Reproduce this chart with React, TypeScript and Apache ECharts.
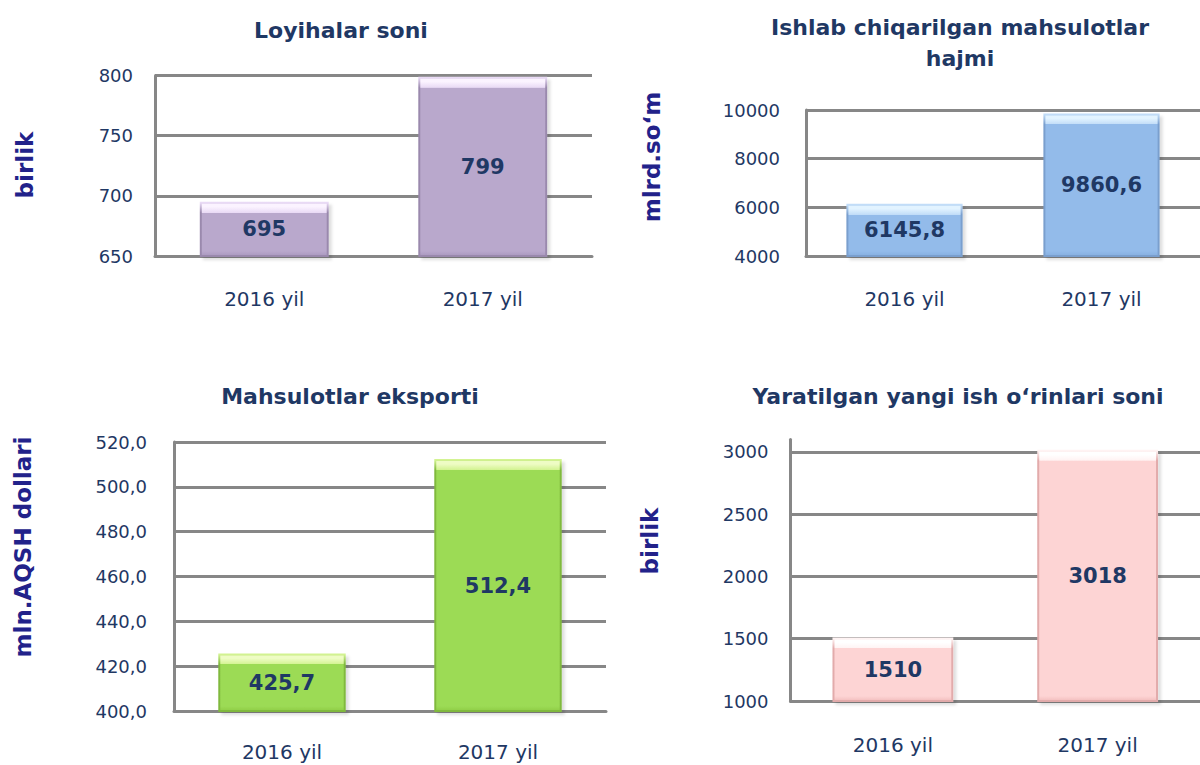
import React, { useEffect, useRef } from 'react';
import * as echarts from 'echarts';

// ---- data ----
const categories = ['2016 yil', '2017 yil'];
const projectCounts = [695, 799];
const productionVolume = [6145.8, 9860.6];
const exportValues = [425.7, 512.4];
const newJobs = [1510, 3018];

const panelTitles = [
  'Loyihalar soni',
  'Ishlab chiqarilgan mahsulotlar\nhajmi',
  'Mahsulotlar eksporti',
  'Yaratilgan yangi ish o‘rinlari soni',
];
const axisNames = ['birlik', 'mlrd.so‘m', 'mln.AQSH dollari', 'birlik'];

// y-axis ranges [min, max, interval]
const axisRanges = [
  [650, 800, 50],
  [4000, 10000, 2000],
  [400, 520, 20],
  [1000, 3100, 500],
];
const decimals = [0, 1, 1, 0];
const axisDecimals = [0, 0, 1, 0];

// ---- layout / style ----
const layout = [
  { grid: { left: 155, top: 75.5, width: 437, height: 180.5 }, yMargin: 22, xMargin: 33, title: [341, 15], name: [25, 165] },
  { grid: { left: 806, top: 110, width: 398, height: 146 }, yMargin: 26, xMargin: 33, title: [960, 12], name: [652, 157] },
  { grid: { left: 174, top: 442, width: 432, height: 269 }, yMargin: 27, xMargin: 31, title: [350, 381], name: [23, 547] },
  { grid: { left: 790.5, top: 439.5, width: 411, height: 261.5 }, yMargin: 22, xMargin: 34, title: [958, 381], name: [650, 541] },
];

const palettes = [
  { top: '#fbf3ff', top2: '#e9daf5', body: '#b9a8cc', bottom: '#aa98bf', edge: '#9a89ad' },
  { top: '#e2f3ff', top2: '#c2ddf8', body: '#93bbea', bottom: '#86afe0', edge: '#7a9fce' },
  { top: '#eefcc4', top2: '#d3f392', body: '#9cdb55', bottom: '#8fcd47', edge: '#80b93e' },
  { top: '#ffffff', top2: '#fff3f3', body: '#fdd4d4', bottom: '#f2bdbd', edge: '#e2abab' },
];

const FONT = '"DejaVu Sans", "Liberation Sans", sans-serif';
const TEXT = '#1f3864';
const NAME = '#22228a';
const GRID_LINE = '#878787';

const seriesData = [projectCounts, productionVolume, exportValues, newJobs];

function fmt(v: number, d: number) {
  return d > 0 ? v.toFixed(d).replace('.', ',') : String(Math.round(v));
}

function barItem(v: number, i: number) {
  const [min, max] = axisRanges[i];
  const h = ((v - min) / (max - min)) * layout[i].grid.height;
  const p = palettes[i];
  const a = Math.min(0.3, 4 / h);
  const b = Math.min(0.45, 10 / h);
  const c = 1 - Math.min(0.3, 5 / h);
  const fill = new echarts.graphic.LinearGradient(0, 0, 0, 1, [
    { offset: 0, color: p.top },
    { offset: a, color: p.top },
    { offset: b - 0.001, color: p.top2 },
    { offset: b, color: p.body },
    { offset: c, color: p.body },
    { offset: 1, color: p.bottom },
  ]);
  const stroke = new echarts.graphic.LinearGradient(0, 0, 0, 1, [
    { offset: 0, color: p.top2 },
    { offset: b, color: p.edge },
    { offset: 1, color: p.edge },
  ]);
  return {
    value: v,
    itemStyle: {
      color: fill,
      borderColor: stroke,
      borderWidth: 2,
      shadowColor: 'rgba(0,0,0,0.13)',
      shadowBlur: 3,
      shadowOffsetX: 3,
      shadowOffsetY: 3,
    },
  };
}

export default function App() {
  const ref = useRef<HTMLDivElement>(null);
  useEffect(() => {
    if (!ref.current) return;
    const chart = echarts.init(ref.current, undefined, { renderer: 'svg' });
    const option: any = {
      animation: false,
      backgroundColor: '#ffffff',
      title: panelTitles.map((t, i) => ({
        text: t,
        left: layout[i].title[0],
        top: layout[i].title[1],
        textAlign: 'center',
        padding: 0,
        textStyle: { fontFamily: FONT, fontSize: 22, fontWeight: 'bold', color: TEXT, lineHeight: 31 },
      })),
      grid: layout.map((l) => ({ ...l.grid, containLabel: false })),
      xAxis: layout.map((l, i) => ({
        type: 'category',
        gridIndex: i,
        data: categories,
        axisLine: { show: true, lineStyle: { color: GRID_LINE, width: 3 } },
        axisTick: { show: false },
        axisLabel: { margin: l.xMargin, fontFamily: FONT, fontSize: 20, color: TEXT },
      })),
      yAxis: layout.map((l, i) => ({
        type: 'value',
        gridIndex: i,
        min: axisRanges[i][0],
        max: axisRanges[i][1],
        interval: axisRanges[i][2],
        axisLine: { show: true, lineStyle: { color: GRID_LINE, width: 3 } },
        axisTick: { show: false },
        axisLabel: {
          margin: l.yMargin,
          fontFamily: FONT,
          fontSize: 18,
          color: TEXT,
          showMaxLabel: i !== 3,
          formatter: (v: number) => fmt(v, axisDecimals[i]),
        },
        splitLine: { show: true, showMaxLine: i !== 3, lineStyle: { color: GRID_LINE, width: 3 } },
      })),
      series: seriesData.map((vals, i) => ({
        type: 'bar',
        xAxisIndex: i,
        yAxisIndex: i,
        barWidth: '59%',
        data: vals.map((v) => barItem(v, i)),
        label: {
          show: true,
          position: 'inside',
          fontFamily: FONT,
          fontSize: 21,
          fontWeight: 'bold',
          color: TEXT,
          formatter: (p: any) => fmt(p.value, decimals[i]),
        },
      })),
      graphic: axisNames.map((n, i) => ({
        type: 'text',
        x: layout[i].name[0],
        y: layout[i].name[1],
        rotation: Math.PI / 2,
        style: {
          text: n,
          fill: NAME,
          font: `bold 23px ${FONT}`,
          textAlign: 'center',
          textVerticalAlign: 'middle',
        },
      })),
    };
    chart.setOption(option);
    return () => chart.dispose();
  }, []);
  return <div ref={ref} style={{ position: 'fixed', left: 0, top: 0, width: 1200, height: 765 }} />;
}
